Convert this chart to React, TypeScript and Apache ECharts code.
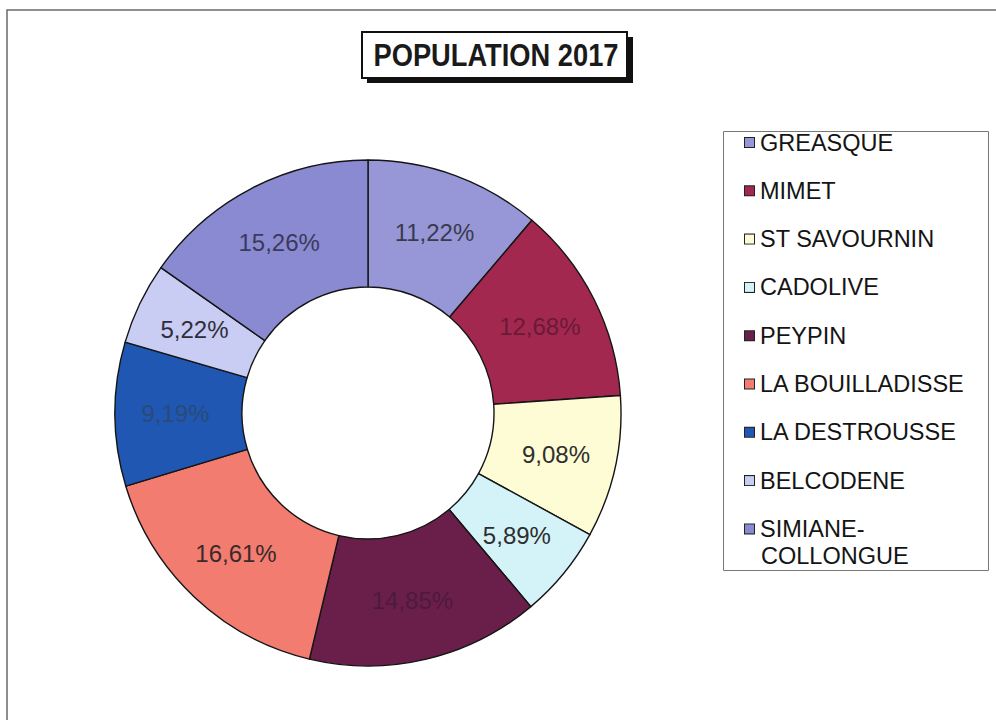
import React, { useEffect, useRef } from "react";
import * as echarts from "echarts";

// ---- data ----
const communes = [
  "GREASQUE",
  "MIMET",
  "ST SAVOURNIN",
  "CADOLIVE",
  "PEYPIN",
  "LA BOUILLADISSE",
  "LA DESTROUSSE",
  "BELCODENE",
  "SIMIANE-COLLONGUE",
];
const shares = [11.22, 12.68, 9.08, 5.89, 14.85, 16.61, 9.19, 5.22, 15.26];
const chartTitle = "POPULATION 2017";

// ---- styles ----
const sliceColors = [
  "#9797d8",
  "#a3284f",
  "#fdfcd4",
  "#d3f3f8",
  "#6a1f4b",
  "#f27c70",
  "#1f57b3",
  "#c9ccf3",
  "#8a8ad2",
];
const labelColors = [
  "#3a3a4c",
  "#6a1a38",
  "#2e2e2e",
  "#2e2e2e",
  "#4e1a3c",
  "#3a2a2a",
  "#2a4a78",
  "#2e2e3a",
  "#3a3a5c",
];

export default function App() {
  const ref = useRef<HTMLDivElement>(null);

  useEffect(() => {
    document.body.style.margin = "0";
    const chart = echarts.init(ref.current!, null, { renderer: "svg" });
    const font = "'Liberation Sans', Arial, sans-serif";

    const rich: Record<string, any> = {
      t: {
        fontFamily: font,
        fontSize: 23.5,
        lineHeight: 27,
        color: "#141414",
        padding: [0, 0, 0, 6],
        verticalAlign: "middle",
      },
      s: { width: 10, height: 10, verticalAlign: "middle" },
    };
    sliceColors.forEach((c, i) => {
      rich["m" + i] = {
        width: 9,
        height: 9,
        backgroundColor: c,
        borderColor: "#222",
        borderWidth: 1,
        verticalAlign: "middle",
      };
    });

    chart.setOption({
      animation: false,
      backgroundColor: "#ffffff",
      legend: {
        orient: "vertical",
        left: 740,
        top: 129,
        padding: 0,
        itemWidth: 0,
        itemHeight: 10,
        itemGap: 21.3,
        icon: "none",
        selectedMode: false,
        data: communes,
        formatter: (name: string) => {
          const i = communes.indexOf(name);
          const parts = name.split("-");
          if (parts.length > 1) {
            return `{m${i}|}{t|${parts[0]}-}\n{s|}{t|${parts[1]}}`;
          }
          return `{m${i}|}{t|${name}}`;
        },
        textStyle: {
          fontFamily: font,
          fontSize: 23.5,
          lineHeight: 27,
          color: "#141414",
          rich,
        },
      },
      graphic: [
        {
          type: "rect",
          shape: { x: 7, y: 10, width: 1000, height: 800 },
          style: { fill: "none", stroke: "#6a6a6a", lineWidth: 1.5 },
          silent: true,
        },
        {
          type: "rect",
          shape: { x: 723.5, y: 131.5, width: 265, height: 439 },
          style: { fill: "none", stroke: "#777", lineWidth: 1 },
          silent: true,
        },
        {
          type: "rect",
          shape: { x: 367, y: 37, width: 266, height: 46 },
          style: { fill: "#111" },
          silent: true,
        },
        {
          type: "rect",
          shape: { x: 362, y: 32, width: 265, height: 46 },
          style: { fill: "#fff", stroke: "#111", lineWidth: 2 },
          silent: true,
        },
        {
          type: "text",
          x: 496,
          y: 55,
          scaleX: 0.88,
          style: {
            text: chartTitle,
            fontFamily: font,
            fontSize: 31,
            fontWeight: "bold",
            fill: "#1a1a1a",
            align: "center",
            verticalAlign: "middle",
          },
          silent: true,
        },
      ],
      series: [
        {
          type: "pie",
          center: [368, 413],
          radius: [126, 253],
          startAngle: 90,
          clockwise: true,
          avoidLabelOverlap: false,
          emphasis: { disabled: true },
          labelLine: { show: false },
          itemStyle: { borderColor: "#151515", borderWidth: 1.4 },
          label: {
            show: true,
            position: "inside",
            fontFamily: font,
            fontSize: 24,
            formatter: (p: any) =>
              Number(p.value).toFixed(2).replace(".", ",") + "%",
          },
          data: communes.map((name, i) => ({
            name,
            value: shares[i],
            itemStyle: { color: sliceColors[i] },
            label: { color: labelColors[i] },
          })),
        },
      ],
    });

    return () => chart.dispose();
  }, []);

  return (
    <div
      ref={ref}
      style={{ width: 996, height: 720, background: "#fff" }}
    />
  );
}
